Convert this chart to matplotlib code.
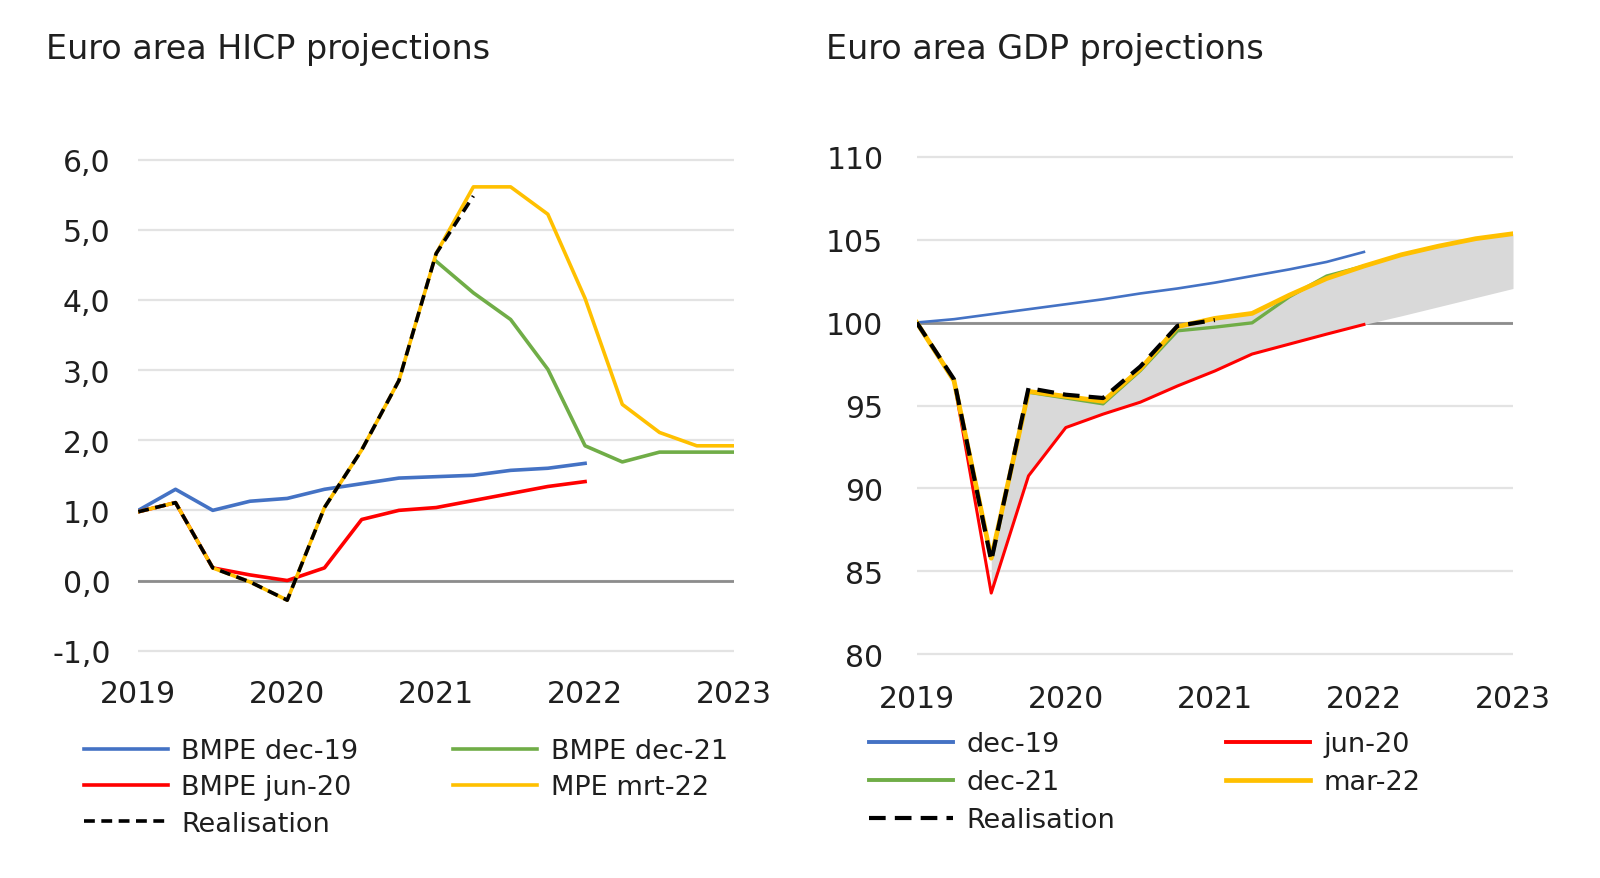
import matplotlib.pyplot as plt
from matplotlib.lines import Line2D

# quarters since 2019Q1
quarters = list(range(17))
year_ticks = [0, 4, 8, 12, 16]
year_labels = ["2019", "2020", "2021", "2022", "2023"]

# HICP (left panel)
hicp_realisation = [0.98, 1.11, 0.18, -0.02, -0.28, 1.04, 1.86, 2.85, 4.66, 5.48]
hicp_mar22 = [0.98, 1.11, 0.18, -0.02, -0.28, 1.04, 1.86, 2.85, 4.66,
              5.61, 5.61, 5.22, 4.02, 2.51, 2.11, 1.92, 1.92]
hicp_dec21 = [4.55, 4.10, 3.72, 3.01, 1.92, 1.69, 1.83, 1.83, 1.83]   # from 2021Q1
hicp_dec19 = [1.00, 1.30, 1.00, 1.13, 1.17, 1.30, 1.38, 1.46, 1.48, 1.50, 1.57, 1.60, 1.67]
hicp_jun20 = [0.98, 1.11, 0.18, 0.08, 0.00, 0.18, 0.87, 1.00, 1.04, 1.14, 1.24, 1.34, 1.41]
hicp_yticks = [-1, 0, 1, 2, 3, 4, 5, 6]

# GDP index (right panel)
gdp_realisation = [100, 96.58, 85.64, 96.05, 95.65, 95.45, 97.35, 99.80, 100.15]
gdp_mar22 = [100, 96.50, 85.80, 95.85, 95.55, 95.25, 97.20, 99.75, 100.25,
             100.55, 101.65, 102.65, 103.40, 104.08, 104.60, 105.05, 105.35]
gdp_dec21 = [100, 96.50, 85.80, 95.80, 95.45, 95.10, 97.10, 99.50, 99.72,
             99.98, 101.55, 102.80, 103.40]
gdp_dec19 = [100, 100.20, 100.50, 100.80, 101.10, 101.40, 101.75, 102.05, 102.40,
             102.80, 103.20, 103.65, 104.25]
gdp_jun20 = [100, 96.50, 83.70, 90.76, 93.67, 94.48, 95.20, 96.18, 97.08,
             98.10, 98.70, 99.30, 99.88]
band_low_tail = [100.40, 100.95, 101.50, 102.05]   # lower edge of shaded band after 2022Q1
gdp_yticks = [80, 85, 90, 95, 100, 105, 110]

BLUE = "#4472C4"
RED = "#FF0000"
GREEN = "#70AD47"
YELLOW = "#FFC000"
TXT = "#1f1f1f"

plt.rcParams["font.family"] = ["DejaVu Sans"]

W, H = 1600, 879
fig = plt.figure(figsize=(16, 8.79), dpi=100)


def px_axes(x0, x1, ytop, ybot):
    return fig.add_axes([x0 / W, 1 - ybot / H, (x1 - x0) / W, (ybot - ytop) / H])


def style(ax, yticks, ylabels, ylim, ypad, xpad, baseline):
    ax.set_xlim(0, 16)
    ax.set_ylim(*ylim)
    for s in ax.spines.values():
        s.set_visible(False)
    ax.set_yticks(yticks)
    ax.set_yticklabels(ylabels)
    ax.set_xticks(year_ticks)
    ax.set_xticklabels(year_labels)
    ax.tick_params(axis="y", length=0, pad=ypad, labelsize=21.5, labelcolor=TXT)
    ax.tick_params(axis="x", length=0, pad=xpad, labelsize=21.5, labelcolor=TXT)
    ax.grid(axis="y", color="#E3E3E3", linewidth=1.6, zorder=0)
    ax.set_axisbelow(True)
    ax.axhline(baseline, color="#8C8C8C", linewidth=2.0, zorder=1)


# ---- left: HICP
ax1 = px_axes(138.3, 734.0, 157.0, 655.2)
style(ax1, hicp_yticks, [f"{v:.1f}".replace(".", ",") for v in hicp_yticks],
      (-1.05, 6.05), 20, 18, 0)

lw = 2.6
ax1.plot(quarters[:13], hicp_dec19, color=BLUE, lw=lw, zorder=3)
ax1.plot(quarters[:13], hicp_jun20, color=RED, lw=lw, zorder=3)
ax1.plot(quarters[8:], hicp_dec21, color=GREEN, lw=lw, zorder=4)
ax1.plot(quarters, hicp_mar22, color=YELLOW, lw=lw, zorder=5)
ax1.plot(quarters[:10], hicp_realisation, color="black", lw=lw,
         dashes=(3.0, 1.8), zorder=6)

fig.text(46 / W, 1 - 49 / H, "Euro area HICP projections", fontsize=24,
         color=TXT, va="center", ha="left")

h1 = [Line2D([], [], color=BLUE, lw=lw),
      Line2D([], [], color=RED, lw=lw),
      Line2D([], [], color="black", lw=lw, dashes=(3.0, 1.8)),
      Line2D([], [], color=GREEN, lw=lw),
      Line2D([], [], color=YELLOW, lw=lw)]
l1 = ["BMPE dec-19", "BMPE jun-20", "Realisation", "BMPE dec-21", "MPE mrt-22"]
ax1.legend(h1, l1, loc="upper left", bbox_to_anchor=(83.7 / W, 1 - 739 / H),
           bbox_transform=fig.transFigure, ncol=2, frameon=False, fontsize=19.5,
           borderpad=0, borderaxespad=0, handlelength=3.1, handletextpad=0.5,
           columnspacing=3.5, labelspacing=0.38, labelcolor=TXT)

# ---- right: GDP
ax2 = px_axes(916.7, 1513.0, 154.2, 658.8)
style(ax2, gdp_yticks, [str(v) for v in gdp_yticks], (79.8, 110.2), 24, 19, 100)

band_x = quarters[2:]
band_low = gdp_jun20[2:] + band_low_tail
ax2.fill_between(band_x, band_low, gdp_mar22[2:], color="#D9D9D9",
                 linewidth=0, zorder=2)
ax2.plot(quarters[:13], gdp_dec19, color=BLUE, lw=1.9, zorder=3)
ax2.plot(quarters[:13], gdp_jun20, color=RED, lw=2.2, zorder=3)
ax2.plot(quarters[:13], gdp_dec21, color=GREEN, lw=2.4, zorder=4)
ax2.plot(quarters, gdp_mar22, color=YELLOW, lw=3.4, zorder=5)
ax2.plot(quarters[:9], gdp_realisation, color="black", lw=3.0,
         dashes=(4.0, 2.2), zorder=6)

fig.text(826 / W, 1 - 49 / H, "Euro area GDP projections", fontsize=24,
         color=TXT, va="center", ha="left")

h2 = [Line2D([], [], color=BLUE, lw=2.8),
      Line2D([], [], color=GREEN, lw=2.8),
      Line2D([], [], color="black", lw=3.0, dashes=(4.0, 2.2)),
      Line2D([], [], color=RED, lw=2.8),
      Line2D([], [], color=YELLOW, lw=3.4)]
l2 = ["dec-19", "dec-21", "Realisation", "jun-20", "mar-22"]
ax2.legend(h2, l2, loc="upper left", bbox_to_anchor=(869 / W, 1 - 732 / H),
           bbox_transform=fig.transFigure, ncol=2, frameon=False, fontsize=19.5,
           borderpad=0, borderaxespad=0, handlelength=3.1, handletextpad=0.5,
           columnspacing=4.1, labelspacing=0.45, labelcolor=TXT)

fig.savefig("out.png", dpi=100)
